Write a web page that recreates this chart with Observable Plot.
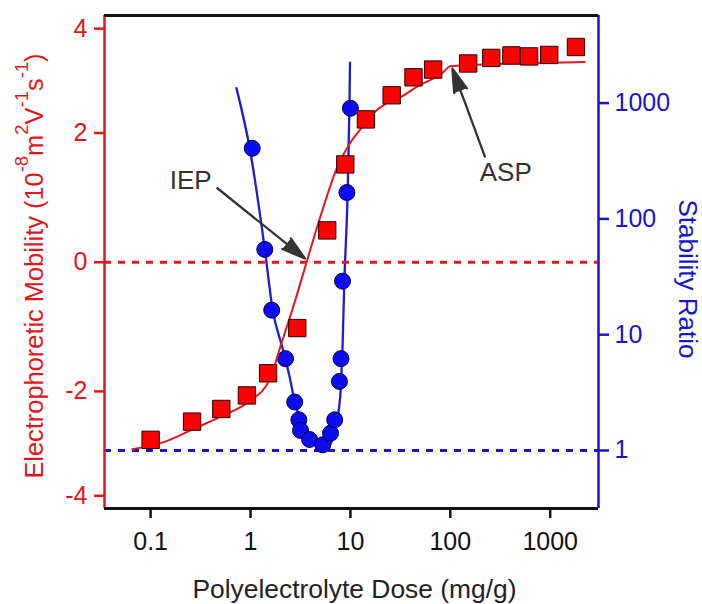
<!DOCTYPE html>
<html>
<head>
<meta charset="utf-8">
<script src="https://cdn.jsdelivr.net/npm/d3@7"></script>
<script src="https://cdn.jsdelivr.net/npm/@observablehq/plot@0.6"></script>
<style>
  html, body { margin: 0; padding: 0; background: #fff; overflow: hidden; }
  #chart { position: relative; width: 702px; height: 604px; }
  #chart svg { position: absolute; left: 0; top: 0; }
</style>
</head>
<body>
<div id="chart"></div>
<script>
// ---- data ----
// Electrophoretic mobility (red squares)
const mobDose = [0.1, 0.26, 0.51, 0.92, 1.5, 2.94, 5.86, 8.89, 14.3, 25.9, 42.8, 67.3, 151, 257, 409, 615, 978, 1811];
const mobility = [-2.88, -2.54, -2.31, -2.07, -1.69, -0.96, 0.45, 1.47, 2.24, 2.68, 3.02, 3.17, 3.29, 3.40, 3.45, 3.43, 3.46, 3.62];

// Mobility fit curve (red line)
const mobFitDose = [0.0656, 0.138, 0.280, 0.517, 0.956, 1.54, 2.03, 2.7, 3.66, 5.00, 7.41, 10.13, 13.5, 16.8, 22.4, 32.1, 49.4, 81.8, 101.5, 126, 2223];
const mobFit = [-3.06, -2.92, -2.66, -2.44, -2.18, -1.81, -1.21, -0.62, 0.01, 0.65, 1.43, 1.85, 2.13, 2.34, 2.52, 2.65, 2.87, 3.09, 3.24, 3.25, 3.32];

// Stability ratio (blue circles)
const wDose = [1.04, 1.39, 1.63, 2.24, 2.77, 3.05, 3.17, 3.90, 5.29, 6.33, 6.96, 7.77, 8.05, 8.34, 9.23, 10.0];
const stability = [407, 54.5, 16.3, 6.21, 2.62, 1.84, 1.49, 1.245, 1.12, 1.41, 1.84, 3.95, 6.21, 29, 169, 903];

// Stability fit curve (blue line)
const wFitDose = [0.723, 0.982, 1.391, 1.668, 2.077, 2.466, 2.775, 3.38, 4.11, 4.97, 5.86, 6.75, 7.59, 8.05, 8.34, 8.68, 9.38, 9.77, 9.91];
const wFit = [1346, 407, 54.5, 16.3, 7.83, 4.31, 2.62, 1.59, 1.22, 1.07, 1.06, 1.32, 2.13, 3.65, 7.83, 27.7, 166, 903, 2240];

// Ticks
const xTicks = [0.1, 1, 10, 100, 1000];
const leftTicks = [-4, -2, 0, 2, 4];
const rightTicks = [1, 10, 100, 1000];

// Annotations (data coordinates: dose, mobility)
const annLabels = ["IEP", "ASP"];
const annTextX = [0.252, 359];
const annTextY = [1.21, 1.34];
const annFromX = [0.466, 222];
const annFromY = [1.087, 1.60];
const annToX = [3.51, 105];
const annToY = [0.051, 3.19];

// ---- build tables ----
const squares = mobDose.map((d, i) => ({dose: d, value: mobility[i]}));
const mobCurve = mobFitDose.map((d, i) => ({dose: d, value: mobFit[i]}));
const circles = wDose.map((d, i) => ({dose: d, value: stability[i]}));
const wCurve = wFitDose.map((d, i) => ({dose: d, value: wFit[i]}));
const annotations = annLabels.map((l, i) => ({
  label: l, tx: annTextX[i], ty: annTextY[i],
  x1: annFromX[i], y1: annFromY[i], x2: annToX[i], y2: annToY[i]
}));

// ---- styling ----
const FONT = "Liberation Sans, Arial, Helvetica, sans-serif";
const RED = "#e3161c";
const BLUE = "#1616c8";
const W = 702, H = 604;
const M = {left: 104, right: 104, top: 15, bottom: 96};
const xDomain = [0.03454, 3045];
const yLeftDomain = [-4.27, 4.28];
const yRightDomain = [0.3155, 5707];
const fmt = d => String(d);

// Bottom layer: stability ratio (right axis)
const plotW = Plot.plot({
  width: W, height: H,
  marginLeft: M.left, marginRight: M.right, marginTop: M.top, marginBottom: M.bottom,
  style: {background: "transparent", fontFamily: FONT, overflow: "visible"},
  x: {type: "log", domain: xDomain, axis: null},
  y: {type: "log", domain: yRightDomain, axis: null},
  marks: [
    Plot.ruleY([1], {stroke: BLUE, strokeWidth: 3, strokeDasharray: "7,7"}),
    Plot.line(wCurve, {x: "dose", y: "value", stroke: "#1c1cd2", strokeWidth: 2.3, curve: "monotone-x"}),
    Plot.dot(circles, {x: "dose", y: "value", r: 8, fill: "#0c0cf2", stroke: "#00003a", strokeWidth: 1}),
    Plot.axisY({anchor: "right", ticks: rightTicks, tickFormat: fmt, tickSize: 10, tickPadding: 6,
      color: BLUE, strokeWidth: 2.5, fontSize: 25, fontFamily: FONT, label: null}),
    Plot.ruleX([xDomain[1]], {stroke: BLUE, strokeWidth: 2.5})
  ]
});

// Top layer: mobility (left axis)
const plotM = Plot.plot({
  width: W, height: H,
  marginLeft: M.left, marginRight: M.right, marginTop: M.top, marginBottom: M.bottom,
  style: {background: "transparent", fontFamily: FONT, overflow: "visible"},
  x: {type: "log", domain: xDomain},
  y: {type: "symlog", constant: 7.5, domain: yLeftDomain},
  marks: [
    Plot.ruleY([0], {stroke: RED, strokeWidth: 3, strokeDasharray: "7,7"}),
    Plot.line(mobCurve, {x: "dose", y: "value", stroke: RED, strokeWidth: 2, curve: "monotone-x"}),
    Plot.dot(squares, {x: "dose", y: "value", symbol: "square", r: 9.8, fill: "#ff0000", stroke: "#2a0000", strokeWidth: 1}),
    Plot.arrow(annotations, {x1: "x1", y1: "y1", x2: "x2", y2: "y2", stroke: "#333", fill: "#333",
      strokeWidth: 2.3, headLength: 16, headAngle: 32}),
    Plot.text(annotations, {x: "tx", y: "ty", text: "label", fill: "#333", fontSize: 26, fontFamily: FONT}),
    Plot.axisX({anchor: "bottom", ticks: xTicks, tickFormat: fmt, tickSize: 10, tickPadding: 14,
      color: "#111", strokeWidth: 2.5, fontSize: 25, fontFamily: FONT, label: null}),
    Plot.axisY({anchor: "left", ticks: leftTicks, tickFormat: fmt, tickSize: 10, tickPadding: 7,
      color: RED, strokeWidth: 2.5, fontSize: 25, fontFamily: FONT, label: null}),
    Plot.ruleX([xDomain[0]], {stroke: RED, strokeWidth: 2.5}),
    Plot.ruleY([yLeftDomain[1]], {stroke: "#111", strokeWidth: 2.8}),
    Plot.ruleY([yLeftDomain[0]], {stroke: "#111", strokeWidth: 3})
  ]
});

const chart = document.getElementById("chart");
chart.appendChild(plotW);
chart.appendChild(plotM);

// ---- axis titles (with superscripts) ----
const svg = d3.select(plotM);
svg.append("text")
  .attr("x", 354.5).attr("y", 598)
  .attr("text-anchor", "middle")
  .attr("font-family", FONT).attr("font-size", 26.4).attr("fill", "#222")
  .text("Polyelectrolyte Dose (mg/g)");

svg.append("text")
  .attr("transform", "translate(679,279) rotate(90)")
  .attr("text-anchor", "middle")
  .attr("font-family", FONT).attr("font-size", 26).attr("fill", BLUE)
  .text("Stability Ratio");

const yl = svg.append("text")
  .attr("transform", "translate(43,266) rotate(-90)")
  .attr("text-anchor", "middle")
  .attr("font-family", FONT).attr("font-size", 25.4).attr("fill", RED);
const parts = [
  ["Electrophoretic Mobility (10", false], ["-8", true], ["m", false], ["2", true],
  ["V", false], ["-1", true], ["s", false], ["-1", true], [")", false]
];
let raised = false;
for (const [t, sup] of parts) {
  const ts = yl.append("tspan").text(t);
  if (sup) { ts.attr("font-size", 18.5); if (!raised) { ts.attr("dy", -15); raised = true; } }
  else { ts.attr("font-size", 25.4); if (raised) { ts.attr("dy", 15); raised = false; } }
}
</script>
</body>
</html>
